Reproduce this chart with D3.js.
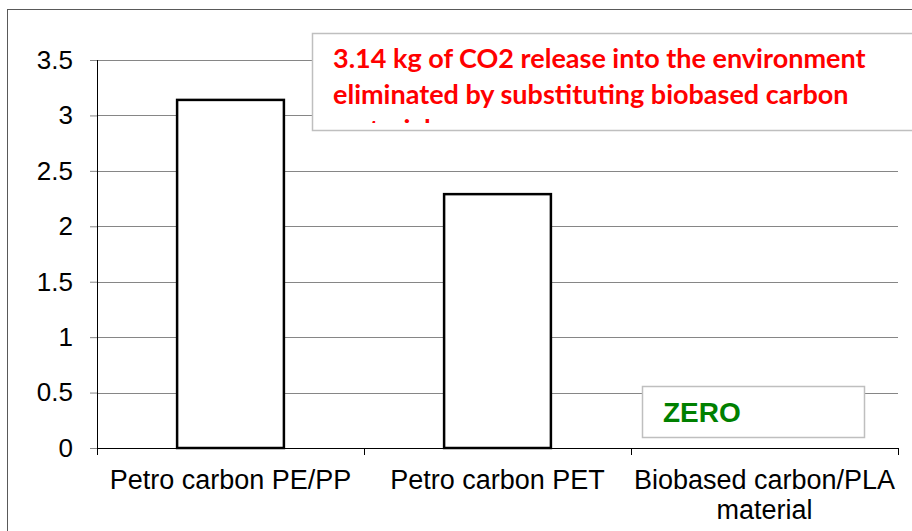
<!DOCTYPE html>
<html>
<head>
<meta charset="utf-8">
<script src="https://cdn.jsdelivr.net/npm/d3@7"></script>
<style>
  body { margin: 0; background: #fff; }
  svg { display: block; }
</style>
</head>
<body>
<script>
var categories = ["Petro carbon PE/PP", "Petro carbon PET", "Biobased carbon/PLA material"];
var values = [3.14, 2.29, 0];
var yTicks = [0, 0.5, 1, 1.5, 2, 2.5, 3, 3.5];
var noteLines = ["3.14 kg of CO2 release into the environment",
                 "eliminated by substituting biobased carbon",
                 "material"];
var zeroLabel = "ZERO";

var W = 912, H = 531;
var margin = {top: 60, right: 14, bottom: 83, left: 97},
    width = W - margin.left - margin.right,
    height = H - margin.top - margin.bottom;

var svg = d3.select("body").append("svg")
    .attr("width", W)
    .attr("height", H);

// outer chart frame
svg.append("rect")
    .attr("x", 7.5).attr("y", 9.5)
    .attr("width", W + 20).attr("height", H + 20)
    .attr("fill", "none")
    .attr("stroke", "#595959")
    .attr("stroke-width", 1);

var g = svg.append("g")
    .attr("transform", "translate(" + margin.left + "," + margin.top + ")");

var x = d3.scaleBand().domain(categories).range([0, width]).padding(0);
var y = d3.scaleLinear().domain([0, 3.5]).range([height, 0]);

// gridlines
g.append("g")
    .selectAll("line")
    .data(yTicks.filter(function(d) { return d > 0; }))
  .enter().append("line")
    .attr("x1", 0).attr("x2", width)
    .attr("y1", function(d) { return Math.round(y(d)) + 0.5; })
    .attr("y2", function(d) { return Math.round(y(d)) + 0.5; })
    .attr("stroke", "#868686")
    .attr("stroke-width", 1);

// y axis
var yAxis = d3.axisLeft(y).tickValues(yTicks).tickSize(7).tickPadding(17)
    .tickFormat(function(d) { return d; });
var yg = g.append("g").attr("class", "y axis").call(yAxis);
yg.select(".domain").attr("stroke", "#000").attr("d", "M0.5,0V" + height);
yg.selectAll(".tick line").attr("stroke", "#868686");
yg.selectAll("text")
    .attr("font-family", "Liberation Sans, Arial, sans-serif")
    .attr("font-size", "26px")
    .attr("fill", "#000");

// x axis (category separators)
var xg = g.append("g")
    .attr("class", "x axis")
    .attr("transform", "translate(0," + height + ")");
xg.append("line")
    .attr("x1", 0).attr("x2", width)
    .attr("y1", 0.5).attr("y2", 0.5)
    .attr("stroke", "#000");
xg.selectAll(".sep")
    .data(categories.concat(["end"]))
  .enter().append("line")
    .attr("class", "sep")
    .attr("x1", function(d, i) { return Math.round(i * x.step()) + 0.5; })
    .attr("x2", function(d, i) { return Math.round(i * x.step()) + 0.5; })
    .attr("y1", 0).attr("y2", 7)
    .attr("stroke", "#000");

var labelLines = [["Petro carbon PE/PP"], ["Petro carbon PET"], ["Biobased carbon/PLA", "material"]];
xg.selectAll(".cat")
    .data(categories)
  .enter().append("text")
    .attr("class", "cat")
    .attr("text-anchor", "middle")
    .attr("font-family", "Liberation Sans, Arial, sans-serif")
    .attr("font-size", "27px")
    .attr("fill", "#000")
    .each(function(d, i) {
      var t = d3.select(this);
      labelLines[i].forEach(function(line, j) {
        t.append("tspan")
          .attr("x", x(d) + x.bandwidth() / 2)
          .attr("y", 41 + j * 30)
          .text(line);
      });
    });

// bars
var barW = x.bandwidth() * 0.4;
g.selectAll(".bar")
    .data(values)
  .enter().append("rect")
    .attr("class", "bar")
    .attr("x", function(d, i) { return x(categories[i]) + (x.bandwidth() - barW) / 2; })
    .attr("width", barW)
    .attr("y", function(d) { return y(d); })
    .attr("height", function(d) { return y(0) - y(d); })
    .attr("fill", "#fff")
    .attr("stroke", "#000")
    .attr("stroke-width", 2.5)
    .style("display", function(d) { return d > 0 ? null : "none"; });

// annotation box (top)
var defs = svg.append("defs");
defs.append("clipPath").attr("id", "noteClip")
  .append("rect").attr("x", 313).attr("y", 34).attr("width", 700).attr("height", 89);

svg.append("rect")
    .attr("x", 312.5).attr("y", 33.5)
    .attr("width", 700).attr("height", 97)
    .attr("fill", "#fff")
    .attr("stroke", "#bfbfbf")
    .attr("stroke-width", 1.5);

var note = svg.append("text")
    .attr("clip-path", "url(#noteClip)")
    .attr("font-family", "Lato, 'Open Sans', sans-serif")
    .attr("font-weight", "bold")
    .attr("font-size", "27px")
    .attr("fill", "#ff0000");
noteLines.forEach(function(line, j) {
  note.append("tspan")
    .attr("x", 333)
    .attr("y", 68 + j * 35.5)
    .text(line);
});

// ZERO box
svg.append("rect")
    .attr("x", 642.5).attr("y", 386.5)
    .attr("width", 222).attr("height", 51)
    .attr("fill", "#fff")
    .attr("stroke", "#bfbfbf")
    .attr("stroke-width", 1.5);
svg.append("text")
    .attr("x", 663).attr("y", 422)
    .attr("font-family", "Liberation Sans, Arial, sans-serif")
    .attr("font-weight", "bold")
    .attr("font-size", "28px")
    .attr("fill", "#008000")
    .text(zeroLabel);
</script>
</body>
</html>
